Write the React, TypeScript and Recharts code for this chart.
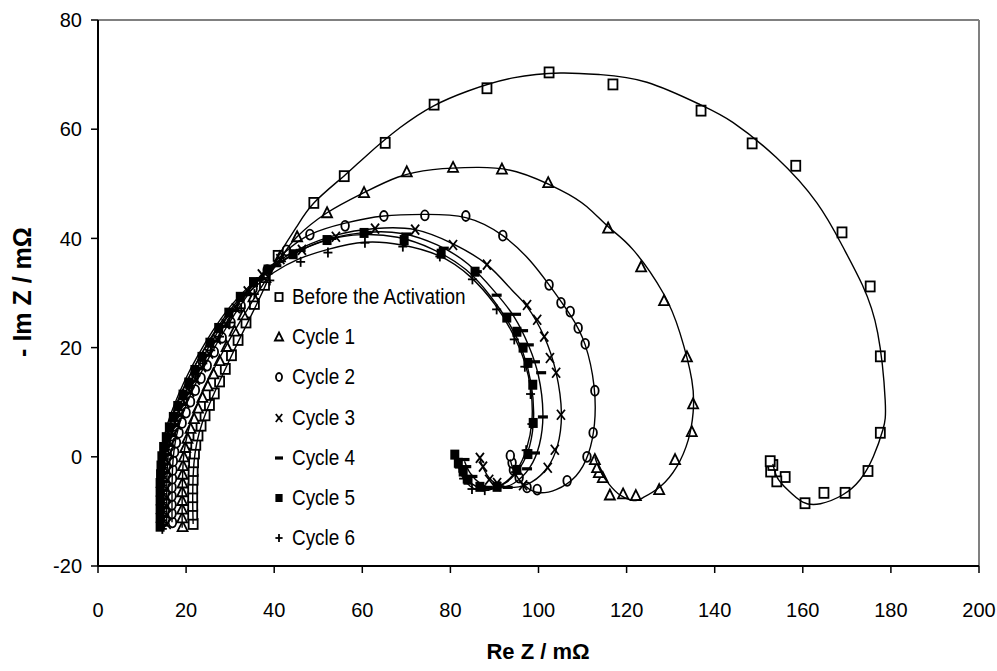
import { ScatterChart, Scatter, XAxis, YAxis, ReferenceLine } from 'recharts';

type Pt = [number, number];
type Kind = 'square' | 'triangle' | 'circle' | 'cross' | 'dash' | 'filled' | 'plus';

const FONT = '"Liberation Sans", Arial, sans-serif';

const X_TICKS = [0, 20, 40, 60, 80, 100, 120, 140, 160, 180, 200];
const Y_TICKS = [-20, 0, 20, 40, 60, 80];

// measured impedance points (Re Z, -Im Z) in mOhm
const beforePts: Pt[] = [
  [21.6, -12.3], [21.5, -10.6], [21.5, -9], [21.5, -7.4], [21.5, -5.8], [21.6, -4.2], [21.6, -2.6],
  [21.7, -1], [21.9, 0.6], [22.2, 2.2], [22.7, 3.9], [23.4, 5.7], [24.3, 7.6], [25.3, 9.5],
  [26.4, 11.6], [27.6, 13.8], [28.9, 16.1], [30.3, 18.6], [31.8, 21.4], [33.6, 24.6], [35.5, 28],
  [37.8, 31.5], [40.9, 36.8], [49, 46.5], [55.9, 51.4], [65.2, 57.5], [76.3, 64.5], [88.3, 67.5],
  [102.4, 70.4], [116.9, 68.2], [136.9, 63.4], [148.5, 57.4], [158.4, 53.3], [168.9, 41.1],
  [175.3, 31.2], [177.6, 18.4], [177.6, 4.4], [174.8, -2.6], [169.6, -6.6], [164.8, -6.6],
  [160.5, -8.5], [156, -3.7], [154.1, -4.5], [152.7, -2.7], [153.2, -1.5], [152.6, -0.8],
];
const cycle1Pts: Pt[] = [
  [19.2, -12.8], [19.1, -11.2], [19.1, -9.6], [19.1, -8], [19.1, -6.4], [19.2, -4.8], [19.2, -3.2],
  [19.3, -1.6], [19.5, 0], [19.8, 1.7], [20.3, 3.4], [21, 5.2], [21.8, 7], [22.7, 8.9], [23.7, 10.9],
  [24.9, 13], [26.2, 15.2], [27.6, 17.6], [29.2, 20.2], [31, 23], [33, 26], [35.3, 29.3], [38, 32.8],
  [41.3, 36.6], [45.2, 40.3], [52, 44.7], [60.4, 48.4], [70.1, 52.2], [80.6, 53], [91.7, 52.7],
  [102.2, 50.2], [115.8, 41.9], [123.3, 34.8], [128.5, 28.6], [133.7, 18.3], [135.1, 9.7],
  [134.8, 4.6], [131, -0.5], [127.4, -6], [122.1, -7.1], [119.2, -6.8], [116.2, -7], [114.6, -3.8],
  [113.7, -2.9], [113.3, -2], [112.8, -0.5],
];
const cycle2Pts: Pt[] = [
  [16.9, -12], [16.8, -10.4], [16.8, -8.8], [16.8, -7.2], [16.8, -5.6], [16.9, -4], [17, -2.4],
  [17.1, -0.8], [17.4, 0.9], [17.8, 2.6], [18.4, 4.4], [19.1, 6.2], [20, 8.1], [21, 10.1], [22.1, 12.2],
  [23.4, 14.4], [24.8, 16.7], [26.4, 19.2], [28.2, 21.8], [30.2, 24.6], [32.5, 27.6], [35.2, 30.8],
  [38.4, 34.2], [42.8, 37.8], [48.1, 40.7], [56.1, 42.3], [64.9, 44.1], [74.2, 44.2], [83.5, 44.1],
  [91.9, 40.5], [102.4, 31.5], [105.1, 28.2], [107.2, 26.6], [109, 23.6], [110.6, 20.7],
  [112.8, 12.1], [112.4, 4.4], [111, 0], [106.5, -4.4], [99.7, -6], [97.4, -5.6], [95.6, -3.8],
  [94.3, -2.4], [94, -1.1], [93.6, 0.2],
];
const cycle3Pts: Pt[] = [
  [15.6, -12.3], [15.6, -10.7], [15.6, -9.1], [15.6, -7.5], [15.6, -5.9], [15.7, -4.3], [15.8, -2.7],
  [15.9, -1.1], [16.2, 0.6], [16.6, 2.3], [17.2, 4.1], [17.9, 5.9], [18.8, 7.8], [19.8, 9.8],
  [20.9, 11.9], [22.2, 14.1], [23.6, 16.4], [25.2, 18.9], [27, 21.5], [29, 24.3], [31.3, 27.2],
  [34, 30.3], [37.2, 33.4], [41.4, 36.2], [46.3, 37.9], [54, 40.3], [62.9, 41.8], [72, 41.6],
  [80.6, 38.8], [88.3, 35.2], [97.4, 27.8], [99.7, 25.1], [101.3, 22], [102.6, 18.1], [104, 15.4],
  [105.1, 7.7], [103.7, 1.3], [102.1, -2], [96.5, -5.2], [90.6, -4.8], [88.8, -4.2], [87.4, -1.8],
  [86.7, -0.2],
];
const cycle4Pts: Pt[] = [
  [14.8, -12.5], [14.8, -10.9], [14.8, -9.3], [14.8, -7.7], [14.8, -6.1], [14.9, -4.5], [15, -2.9],
  [15.1, -1.3], [15.4, 0.4], [15.8, 2.1], [16.4, 3.9], [17.1, 5.7], [18, 7.6], [19, 9.6], [20.1, 11.7],
  [21.4, 13.9], [22.9, 16.2], [24.5, 18.6], [26.4, 21.2], [28.5, 23.9], [30.9, 26.8], [33.7, 29.7],
  [37, 32.6], [40.5, 35], [46, 37.8], [53, 40], [61, 41.1], [70, 40.8], [78.5, 38.2], [86, 33.9],
  [90.5, 29.6], [94.9, 26.1], [96.5, 23.1], [97.8, 20.5], [99.2, 17.4], [100.6, 15.4], [101, 7.3],
  [99.2, 0.7], [97.4, -2.2], [93, -5.6], [88.5, -5.6], [85, -3.6], [83.6, -1.8], [83.2, -0.5],
];
const cycle5Pts: Pt[] = [
  [14.1, -12.8], [14.1, -11.2], [14.1, -9.6], [14.1, -8], [14.1, -6.4], [14.1, -4.8], [14.2, -3.2],
  [14.3, -1.6], [14.5, 0.1], [14.9, 1.8], [15.5, 3.6], [16.2, 5.4], [17.1, 7.3], [18.1, 9.3],
  [19.3, 11.4], [20.6, 13.6], [22, 15.9], [23.6, 18.3], [25.4, 20.9], [27.4, 23.6], [29.7, 26.4],
  [32.3, 29.3], [35.3, 32], [38.6, 34.3], [44.3, 37.1], [52, 39.7], [60.4, 41], [69.5, 39.7],
  [77.9, 37.2], [85.6, 33.9], [92.8, 25.5], [95.1, 22.9], [96.5, 20], [97.6, 17.2], [98.7, 13.2],
  [98.8, 6.2], [97.6, 0.5], [95.1, -2.4], [90.6, -5.5], [86.7, -5.5], [84, -4.2], [82.9, -2.7],
  [81.8, -1.1], [81, 0.4],
];
const cycle6Pts: Pt[] = [
  [14.6, -13.2], [14.6, -11.6], [14.6, -10], [14.6, -8.4], [14.6, -6.8], [14.6, -5.2], [14.7, -3.6],
  [14.8, -2], [15, -0.4], [15.4, 1.3], [15.9, 3], [16.6, 4.8], [17.4, 6.6], [18.4, 8.5], [19.5, 10.5],
  [20.8, 12.6], [22.2, 14.8], [23.8, 17.1], [25.6, 19.5], [27.6, 22], [29.9, 24.6], [32.5, 27.2],
  [35.5, 29.8], [39, 32.3], [46, 35.7], [52.2, 37.4], [60.6, 39.2], [69.2, 38.5], [77.6, 36.7],
  [85, 32.5], [90.5, 27], [94.5, 21.5], [96.9, 16.5], [98.2, 11.5], [98.5, 6], [97.2, 1.2],
  [94.8, -2.8], [91.2, -5.4], [87.8, -6.1], [84.9, -5.9], [83, -4], [82, -2],
];

// fitted model curves
const beforeFit: Pt[] = [
  [21.6, -12.3], [21.5, -8], [21.6, -3.5], [22, 0.5], [23, 4.5], [24.8, 8.7], [27.3, 13.3],
  [30.3, 18.5], [33.8, 24.3], [37.8, 31], [41, 36.8], [45, 42], [49, 46.5], [55.8, 51.4], [61, 55.2],
  [68.6, 60.3], [76, 64.2], [84, 67], [94.2, 69.4], [105, 70.3], [114, 70], [124.6, 68.6],
  [136.7, 64.5], [144.2, 61.2], [154, 54.8], [163.2, 46.5], [169, 38.6], [173.5, 31.5], [177, 22.7],
  [178.7, 10.4], [178.2, 5], [176, 0], [173, -4.2], [169, -7], [164, -8.6], [160, -8.3],
  [156.5, -6], [154.2, -3.8], [153.2, -1.3],
];
const cycle1Fit: Pt[] = [
  [19.1, -13], [19.1, -8], [19.2, -3.5], [19.5, 0.5], [20.4, 4.5], [22, 8.5], [24.3, 12.8],
  [27.2, 17.5], [30.6, 22.5], [34.5, 27.8], [38.5, 32.8], [42, 37], [45.2, 40.3], [52, 44.7],
  [60.4, 48.4], [68, 51.2], [76, 52.6], [86, 53], [95, 52.2], [104.9, 48.9], [111, 45.8], [116, 42],
  [121.5, 37.9], [128.3, 30], [132.1, 22.7], [134.8, 14.1], [135.1, 8.1], [134, 3.1], [131.4, -1.8],
  [127.6, -5.5], [123.7, -7.5], [121.5, -8], [118.5, -7], [116, -5], [114.3, -3], [113.2, -1],
  [112.8, 0],
];
const cycle2Fit: Pt[] = [
  [16.8, -12], [16.8, -7], [16.9, -2.5], [17.3, 1.5], [18.3, 5.5], [20, 9.5], [22.4, 13.8],
  [25.4, 18.5], [29, 23.5], [33, 28.5], [37.5, 33.3], [42.5, 37.5], [48.1, 40.7], [56.1, 42.8],
  [64.9, 44.1], [74, 44.4], [83.5, 43.8], [91.9, 40.5], [98, 36], [102.4, 31.5], [107.2, 26],
  [110.6, 20.5], [112.6, 13], [112.7, 6], [111.3, 0.5], [108.5, -3.5], [104, -6], [99.5, -6.5],
  [96.5, -5], [94.5, -2.8], [93.6, -0.5],
];
const cycle3Fit: Pt[] = [
  [15.6, -12.3], [15.6, -7], [15.7, -2.5], [16.1, 1.5], [17.1, 5.5], [18.7, 9.5], [21, 13.8],
  [24, 18.5], [27.5, 23.3], [31.5, 28], [36, 32.3], [41, 35.8], [46.3, 38.3], [54, 40.6],
  [62.9, 41.8], [72, 41.6], [80.6, 39], [88.3, 35.2], [94, 30.5], [97.4, 27.5], [101.3, 22],
  [104, 15.4], [105.2, 8], [104.3, 2], [102, -2], [98.5, -4.6], [94.5, -5.6], [90.6, -5],
  [88.3, -3.3], [87, -1.2], [86.7, 0],
];
const cycle4Fit: Pt[] = [
  [14.8, -12.5], [14.8, -7], [14.9, -2.5], [15.3, 1.5], [16.3, 5.5], [17.9, 9.5], [20.2, 13.8],
  [23.2, 18.5], [26.7, 23.2], [30.8, 27.7], [35.5, 31.8], [40.5, 35], [46, 37.8], [53, 40],
  [61, 41.1], [69, 40.9], [77, 38.8], [84, 35.3], [90, 30.3], [94.5, 25.6], [97.8, 20.3],
  [100, 14.8], [101, 8], [100.2, 2.2], [98, -2], [94.5, -4.8], [90.5, -5.8], [87, -5], [84.5, -3],
  [83.2, -0.8],
];
const cycle5Fit: Pt[] = [
  [14.1, -12.8], [14.1, -7], [14.2, -2.5], [14.6, 1.5], [15.6, 5.5], [17.3, 9.5], [19.6, 13.8],
  [22.5, 18.3], [26, 23], [30, 27.5], [34.7, 31.5], [39.5, 34.6], [44.5, 37.2], [52, 39.7],
  [60, 40.7], [68, 40.2], [76, 38], [83.5, 34.3], [89, 29.5], [93.5, 24.2], [96.5, 19], [98.3, 13.5],
  [98.9, 7.5], [98, 2], [95.8, -2], [92.5, -4.8], [88.5, -5.9], [85, -5], [82.8, -3], [81.5, -1],
  [81, 0.4],
];
const cycle6Fit: Pt[] = [
  [14.6, -13.2], [14.6, -7], [14.7, -2.5], [15.1, 1.5], [16.1, 5.5], [17.7, 9.5], [20, 13.6],
  [22.9, 18], [26.4, 22.5], [30.4, 26.8], [35, 30.7], [40, 33.8], [45.5, 36.2], [52.2, 38],
  [60.6, 39.3], [69, 38.8], [77.5, 36.8], [84.5, 33], [90, 28], [94, 22.8], [96.8, 17.5],
  [98.3, 12], [98.5, 6.5], [97.3, 1.5], [95, -2.5], [91.5, -5.2], [87.5, -6.2], [84.5, -5.4],
  [82.6, -3.5], [81.7, -1.2],
];

const SERIES: { name: string; kind: Kind; points: Pt[]; fit: Pt[] }[] = [
  { name: 'Before the Activation', kind: 'square', points: beforePts, fit: beforeFit },
  { name: 'Cycle 1', kind: 'triangle', points: cycle1Pts, fit: cycle1Fit },
  { name: 'Cycle 2', kind: 'circle', points: cycle2Pts, fit: cycle2Fit },
  { name: 'Cycle 3', kind: 'cross', points: cycle3Pts, fit: cycle3Fit },
  { name: 'Cycle 4', kind: 'dash', points: cycle4Pts, fit: cycle4Fit },
  { name: 'Cycle 5', kind: 'filled', points: cycle5Pts, fit: cycle5Fit },
  { name: 'Cycle 6', kind: 'plus', points: cycle6Pts, fit: cycle6Fit },
];

const toXY = (pts: Pt[]) => pts.map(([x, y]) => ({ x, y }));

function Marker({ cx, cy, kind, s = 1 }: { cx: number; cy: number; kind: Kind; s?: number }) {
  const w = 4.5 * s;
  const h = 5 * s;
  const sw = 1.8;
  switch (kind) {
    case 'square':
      return <rect x={cx - w} y={cy - h} width={2 * w} height={2 * h} fill="#fff" stroke="#000" strokeWidth={sw} />;
    case 'filled':
      return <rect x={cx - w} y={cy - h} width={2 * w} height={2 * h} fill="#000" />;
    case 'triangle':
      return (
        <polygon
          points={`${cx},${cy - h - 0.5} ${cx + w + 0.5},${cy + h - 0.5} ${cx - w - 0.5},${cy + h - 0.5}`}
          fill="#fff"
          stroke="#000"
          strokeWidth={sw}
        />
      );
    case 'circle':
      return <ellipse cx={cx} cy={cy} rx={3.8 * s} ry={h} fill="#fff" stroke="#000" strokeWidth={sw} />;
    case 'cross':
      return (
        <g stroke="#000" strokeWidth={sw}>
          <line x1={cx - 4 * s} y1={cy - h} x2={cx + 4 * s} y2={cy + h} />
          <line x1={cx - 4 * s} y1={cy + h} x2={cx + 4 * s} y2={cy - h} />
        </g>
      );
    case 'dash':
      return <rect x={cx - 5 * s} y={cy - 1.6} width={10 * s} height={3.2} fill="#000" />;
    case 'plus':
      return (
        <g stroke="#000" strokeWidth={sw}>
          <line x1={cx - w} y1={cy} x2={cx + w} y2={cy} />
          <line x1={cx} y1={cy - h} x2={cx} y2={cy + h} />
        </g>
      );
  }
}

function LegendBox() {
  return (
    <div style={{ position: 'absolute', left: 272, top: 277, fontFamily: FONT }}>
      {SERIES.map((s) => (
        <div key={s.name} style={{ display: 'flex', alignItems: 'center', height: 40.2 }}>
          <svg width={16} height={16} style={{ marginRight: 4 }}>
            <Marker cx={7} cy={8} kind={s.kind} s={0.8} />
          </svg>
          <span
            style={{
              fontSize: 22,
              display: 'inline-block',
              transform: 'scaleX(0.86)',
              transformOrigin: 'left center',
              whiteSpace: 'nowrap',
            }}
          >
            {s.name}
          </span>
        </div>
      ))}
    </div>
  );
}

export default function App() {
  return (
    <div style={{ position: 'absolute', left: 0, top: 0, width: 997, height: 671, background: '#fff' }}>
      <ScatterChart width={997} height={671} margin={{ top: 20, right: 18, bottom: 65, left: 38 }}>
        <XAxis
          type="number"
          dataKey="x"
          domain={[0, 200]}
          ticks={X_TICKS}
          interval={0}
          height={40}
          tickSize={7}
          tickMargin={30}
          axisLine={{ stroke: '#000', strokeWidth: 2 }}
          tickLine={{ stroke: '#000', strokeWidth: 1.5 }}
          tick={{ fill: '#000', fontSize: 20, fontFamily: FONT }}
          allowDataOverflow
        />
        <YAxis
          type="number"
          dataKey="y"
          domain={[-20, 80]}
          ticks={Y_TICKS}
          interval={0}
          width={60}
          tickSize={7}
          tickMargin={9}
          axisLine={{ stroke: '#000', strokeWidth: 2 }}
          tickLine={{ stroke: '#000', strokeWidth: 1.5 }}
          tick={{ fill: '#000', fontSize: 20, fontFamily: FONT }}
          allowDataOverflow
        />
        <ReferenceLine y={80} stroke="#808080" strokeWidth={2} />
        <ReferenceLine x={200} stroke="#808080" strokeWidth={2} />
        {SERIES.map((s) => (
          <Scatter
            key={s.name}
            name={s.name}
            data={toXY(s.points)}
            isAnimationActive={false}
            shape={(p: any) => <Marker cx={p.cx} cy={p.cy} kind={s.kind} />}
          />
        ))}
        {SERIES.map((s) => (
          <Scatter
            key={s.name + '-fit'}
            name={s.name + ' fit'}
            data={toXY(s.fit)}
            isAnimationActive={false}
            line={{ stroke: '#000', strokeWidth: 1.4 }}
            lineType="joint"
            lineJointType="natural"
            shape={() => <g />}
          />
        ))}
      </ScatterChart>
      <LegendBox />
      <div
        style={{
          position: 'absolute',
          left: 22,
          top: 292,
          transform: 'translate(-50%, -50%) rotate(-90deg)',
          fontFamily: FONT,
          fontWeight: 'bold',
          fontSize: 25,
          whiteSpace: 'nowrap',
        }}
      >
        - Im Z / mΩ
      </div>
      <div
        style={{
          position: 'absolute',
          left: 538,
          top: 652,
          transform: 'translate(-50%, -50%)',
          fontFamily: FONT,
          fontWeight: 'bold',
          fontSize: 22,
          whiteSpace: 'nowrap',
        }}
      >
        Re Z / mΩ
      </div>
    </div>
  );
}
